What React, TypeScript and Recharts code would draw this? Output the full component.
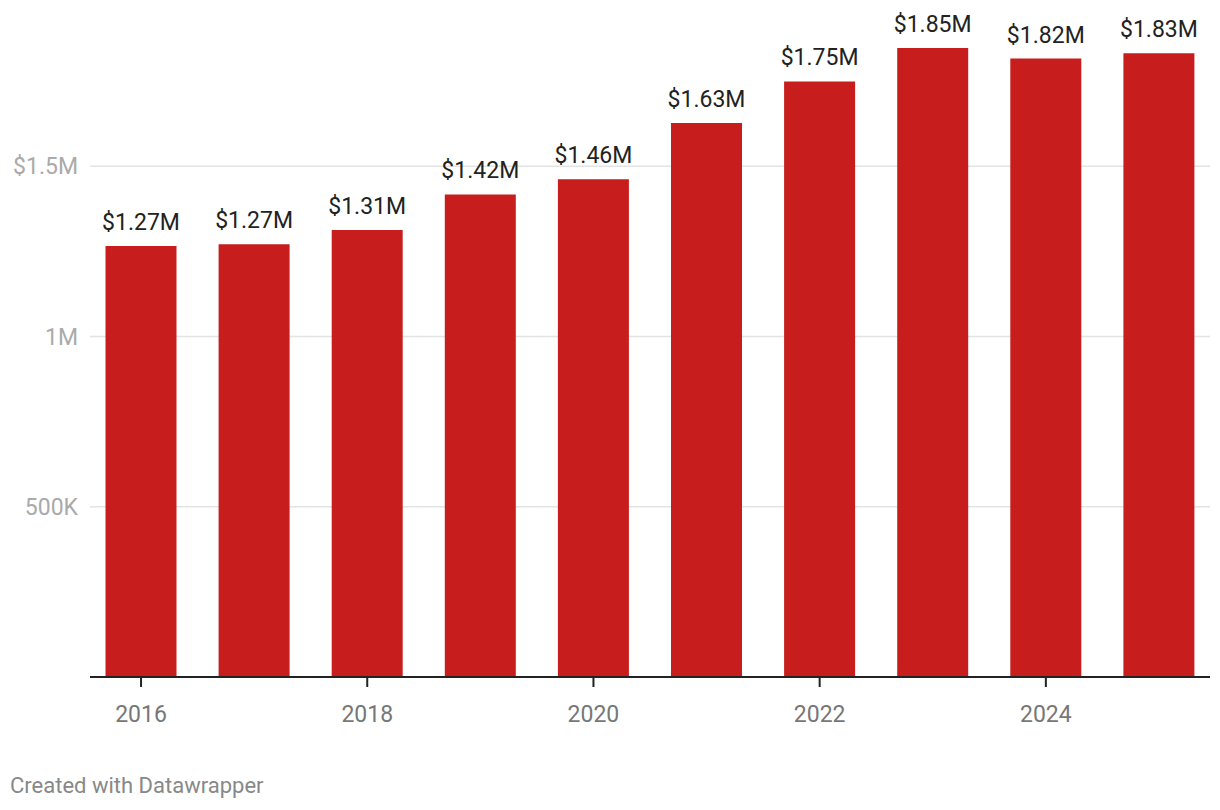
import React from 'react';
import { BarChart, Bar, XAxis, YAxis, CartesianGrid, LabelList } from 'recharts';

const years = ['2016', '2017', '2018', '2019', '2020', '2021', '2022', '2023', '2024', '2025'];
const totals = [1266000, 1271000, 1313000, 1417000, 1462000, 1627000, 1749000, 1847000, 1816000, 1832000];
const yTicks = [500000, 1000000, 1500000];
const yTickLabels = ['500K', '1M', '$1.5M'];

const data = years.map((y, i) => ({ year: y, value: totals[i] }));

const fmtValue = (v: number) => '$' + (v / 1e6).toFixed(2) + 'M';
const fmtTick = (v: number) => yTickLabels[yTicks.indexOf(v)] ?? '';

const FONT = 'Roboto, "Noto Sans", sans-serif';

export default function App() {
  return (
    <div style={{ position: 'absolute', left: 0, top: 0, width: 1220, height: 810, background: '#fff', fontFamily: FONT }}>
      <BarChart
        width={1220}
        height={810}
        data={data}
        margin={{ top: 30, right: 10, bottom: 73, left: 0 }}
      >
        <CartesianGrid
          horizontal
          vertical={false}
          horizontalValues={yTicks}
          stroke="#e3e3e3"
          strokeWidth={1.5}
        />
        <XAxis
          dataKey="year"
          interval={1}
          padding={{ left: -5.5, right: -5.5 }}
          axisLine={{ stroke: '#222', strokeWidth: 2 }}
          tickLine={{ stroke: '#222', strokeWidth: 2 }}
          tickSize={10}
          tickMargin={19}
          height={60}
          tick={{ fill: '#777', fontSize: 23, fontFamily: FONT }}
        />
        <YAxis
          width={90}
          domain={[0, 1900000]}
          ticks={yTicks}
          tickFormatter={fmtTick}
          axisLine={false}
          tickLine={false}
          tickSize={0}
          tickMargin={12}
          tick={{ fill: '#aaa', fontSize: 23, fontFamily: FONT }}
        />
        <Bar dataKey="value" fill="#c71e1d" barSize={71} isAnimationActive={false}>
          <LabelList
            dataKey="value"
            position="top"
            offset={16}
            formatter={(v: any) => fmtValue(Number(v))}
            style={{ fill: '#222', fontSize: 23, fontFamily: FONT }}
          />
        </Bar>
      </BarChart>
      <div style={{ position: 'absolute', left: 10, top: 773, fontSize: 22, lineHeight: '26px', color: '#888', fontFamily: FONT }}>
        Created with Datawrapper
      </div>
    </div>
  );
}
